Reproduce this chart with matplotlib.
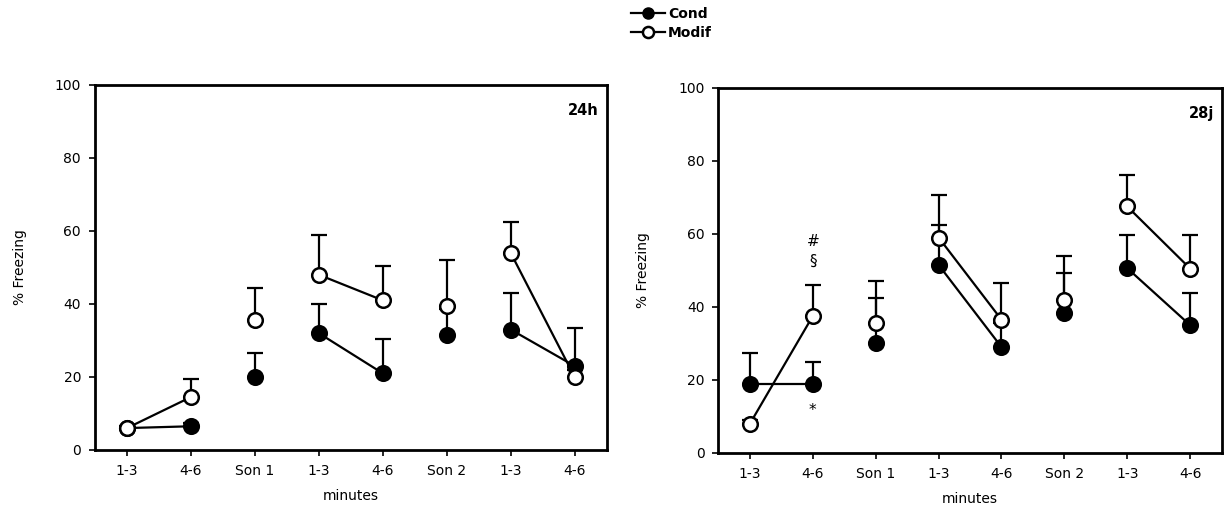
import numpy as np
import matplotlib
matplotlib.use("Agg")
import matplotlib.pyplot as plt
from matplotlib.lines import Line2D

periods = ["1-3", "4-6", "Son 1", "1-3", "4-6", "Son 2", "1-3", "4-6"]
linked = [(0, 1), (3, 4), (6, 7)]   # pairs of points joined by a line

# 24h
cond_24h = [6, 6.5, 20, 32, 21, 31.5, 33, 23]
cond_24h_err = [0.5, 1, 6.5, 8, 9.5, 7, 10, 10.5]
modif_24h = [6, 14.5, 35.5, 48, 41, 39.5, 54, 20]
modif_24h_err = [0.5, 5, 9, 11, 9.5, 12.5, 8.5, 2]

# 28j
cond_28j = [19, 19, 30, 51.5, 29, 38.3, 50.6, 35]
cond_28j_err = [8.3, 6, 12.4, 11, 6.5, 10.9, 9.1, 8.7]
modif_28j = [8, 37.5, 35.5, 59, 36.5, 42, 67.5, 50.5]
modif_28j_err = [1, 8.5, 11.5, 11.7, 10, 11.8, 8.7, 9.2]

plt.rcParams["font.family"] = "DejaVu Sans"
plt.rcParams["font.size"] = 10

fig = plt.figure(figsize=(12.24, 5.26), dpi=100)
ax1 = fig.add_axes([0.0776, 0.1445, 0.418, 0.694])
ax2 = fig.add_axes([0.587, 0.139, 0.411, 0.694])

x = np.arange(1, len(periods) + 1)


def draw_series(ax, vals, err, filled, z):
    vals = np.array(vals, float)
    err = np.array(err, float)
    ax.errorbar(x, vals, yerr=[np.zeros_like(err), err], fmt="none",
                ecolor="black", elinewidth=1.6, capsize=6, capthick=1.6, zorder=z)
    for a, b in linked:
        ax.plot(x[[a, b]], vals[[a, b]], color="black", lw=1.6, zorder=z + 1)
    ax.plot(x, vals, ls="none", marker="o", ms=10.5, mew=1.8, mec="black",
            mfc="black" if filled else "white", zorder=z + 2)


def style(ax, tag):
    ax.set_xlim(0.5, 8.5)
    ax.set_ylim(0, 100)
    ax.set_yticks([0, 20, 40, 60, 80, 100])
    ax.set_xticks(x)
    ax.set_xticklabels(periods)
    ax.tick_params(direction="out", length=4, width=1.2, colors="black", pad=6)
    for s in ax.spines.values():
        s.set_linewidth(2)
    ax.set_ylabel("% Freezing", labelpad=20)
    ax.set_xlabel("minutes", labelpad=8)
    ax.text(0.985, 0.95, tag, transform=ax.transAxes, ha="right", va="top",
            fontsize=10.5, fontweight="bold")


draw_series(ax1, cond_24h, cond_24h_err, True, 2)
draw_series(ax1, modif_24h, modif_24h_err, False, 5)
style(ax1, "24h")

draw_series(ax2, cond_28j, cond_28j_err, True, 2)
draw_series(ax2, modif_28j, modif_28j_err, False, 5)
style(ax2, "28j")

# significance marks at 28j, 4-6
ax2.text(2, 58, "#", ha="center", va="center", fontsize=11)
ax2.text(2, 52.5, "§", ha="center", va="center", fontsize=11)
ax2.text(2, 11.5, "*", ha="center", va="center", fontsize=11)

handles = [
    Line2D([], [], color="black", lw=1.6, marker="o", ms=8, mfc="black", mec="black"),
    Line2D([], [], color="black", lw=1.6, marker="o", ms=8, mfc="white", mec="black", mew=1.8),
]
fig.legend(handles, ["Cond", "Modif"], loc="upper left", bbox_to_anchor=(0.505, 1.01),
           frameon=False, handlelength=2.5, handletextpad=0.2, labelspacing=0.35,
           prop={"size": 10, "weight": "bold"})

fig.savefig("out.png", dpi=100)
